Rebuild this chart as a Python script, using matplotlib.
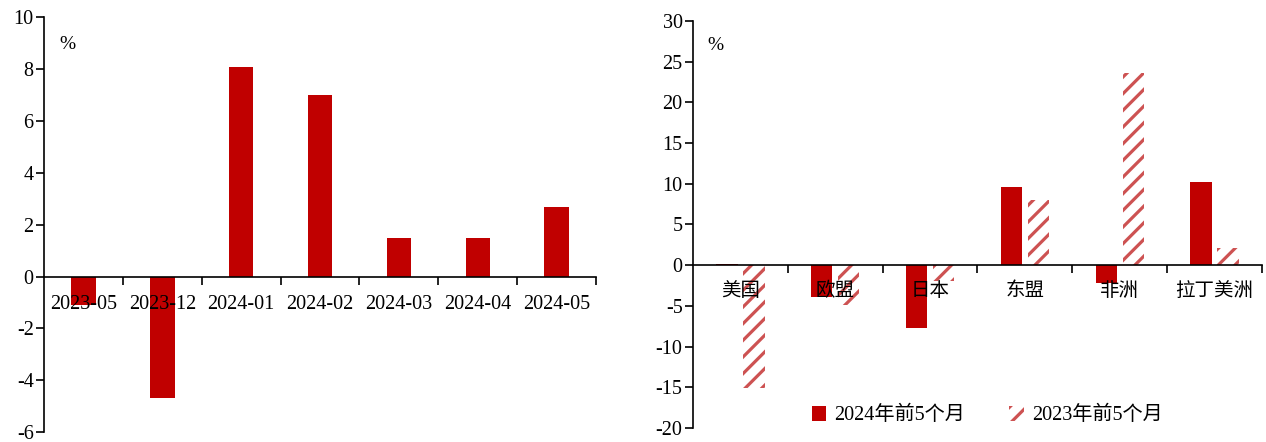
import matplotlib
matplotlib.use("Agg")
import matplotlib.pyplot as plt
import numpy as np

plt.rcParams['font.family'] = ['Liberation Serif', 'Noto Sans CJK SC']
plt.rcParams['axes.unicode_minus'] = False
plt.rcParams['hatch.linewidth'] = 2.3
plt.rcParams['axes.linewidth'] = 1.2

# left panel data
months = ['2023-05', '2023-12', '2024-01', '2024-02', '2024-03', '2024-04', '2024-05']
month_vals = [-1.1, -4.7, 8.1, 7.0, 1.5, 1.5, 2.7]

# right panel data
regions = ['美国', '欧盟', '日本', '东盟', '非洲', '拉丁美洲']
vals_2024 = [0.2, -3.9, -7.7, 9.6, -2.2, 10.2]
vals_2023 = [-15.1, -4.9, -2.0, 8.0, 23.6, 2.1]
series_names = ['2024年前5个月', '2023年前5个月']

RED = '#C00000'
HATCH_RED = '#CD5252'

fig = plt.figure(figsize=(12.66, 4.42), dpi=100)
ax1 = fig.add_axes([0.0348, 0.0226, 0.4360, 0.9382])
ax2 = fig.add_axes([0.5474, 0.0317, 0.4494, 0.9208])


def style_axis(ax, n, ylim, yticks, xpad):
    ax.set_xlim(-0.5, n - 0.5)
    ax.set_ylim(*ylim)
    ax.set_yticks(yticks)
    ax.set_axisbelow(False)
    ax.spines['top'].set_visible(False)
    ax.spines['right'].set_visible(False)
    ax.spines['bottom'].set_position(('data', 0))
    ax.tick_params(axis='y', direction='out', length=5.5, width=1.2, labelsize=14.5, pad=2)
    ax.set_xticks(np.arange(0.5, n, 1.0), minor=True)
    ax.tick_params(axis='x', which='minor', direction='out', length=6, width=1.2)
    ax.tick_params(axis='x', which='major', length=0, pad=xpad)


# left chart
x1 = np.arange(len(months))
ax1.bar(x1, month_vals, width=0.31, color=RED, zorder=1)
style_axis(ax1, len(months), (-6, 10), np.arange(-6, 11, 2), 13)
ax1.set_xticks(x1)
ax1.set_xticklabels(months, fontsize=14.5)
ax1.text(0.027, 0.955, '%', transform=ax1.transAxes, fontsize=14, va='top')

# right chart
x2 = np.arange(len(regions))
w = 0.225
gap = 0.03
ax2.bar(x2 - w / 2 - gap, vals_2024, width=w, color=RED, zorder=1, label=series_names[0])
ax2.bar(x2 + w / 2 + gap, vals_2023, width=w, facecolor='white', edgecolor=HATCH_RED,
        hatch='//', linewidth=0, zorder=1, label=series_names[1])
style_axis(ax2, len(regions), (-20, 30), np.arange(-20, 31, 5), 12)
ax2.set_xticks(x2)
ax2.set_xticklabels(regions, fontsize=14)
ax2.text(0.026, 0.96, '%', transform=ax2.transAxes, fontsize=14, va='top')

ax2.legend(loc='center', bbox_to_anchor=(0.517, 0.03), ncol=2, frameon=False,
           fontsize=14.5, handlelength=0.72, handleheight=0.75, handletextpad=0.4,
           columnspacing=2.2, borderpad=0.2)

fig.savefig('out.png', dpi=100, facecolor='white')
